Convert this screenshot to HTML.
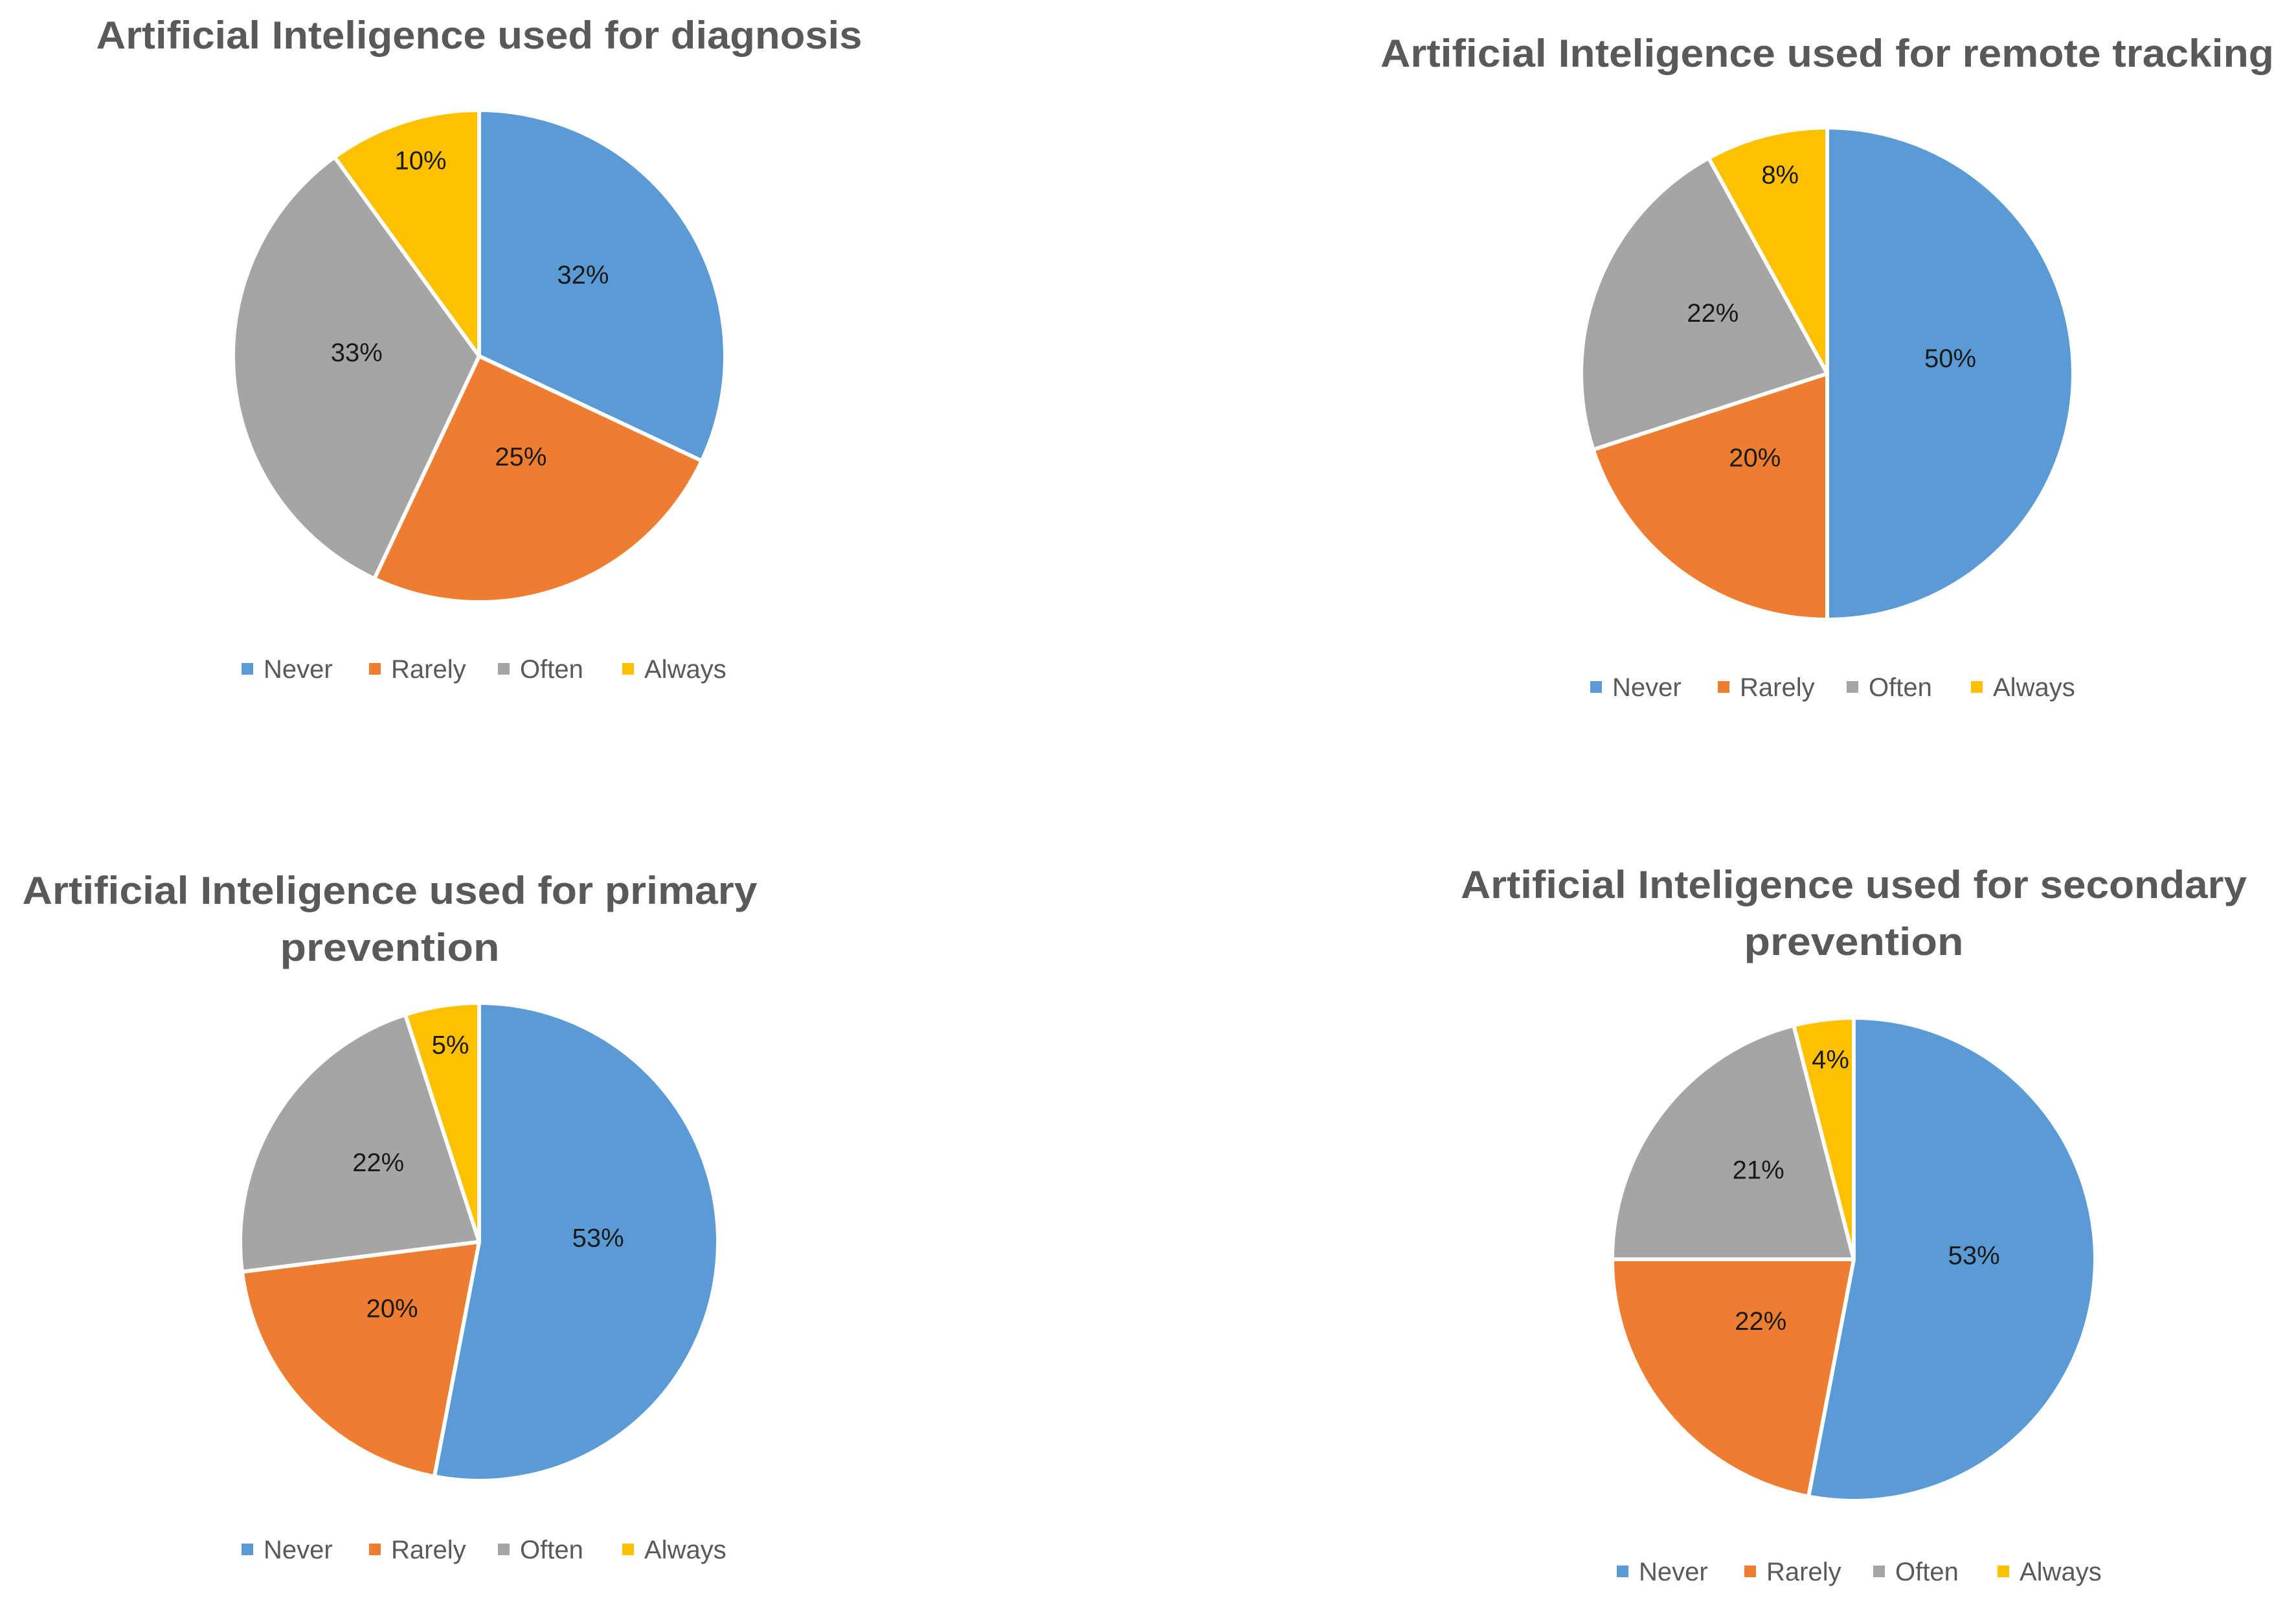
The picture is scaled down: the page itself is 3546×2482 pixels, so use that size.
<!DOCTYPE html>
<html><head><meta charset="utf-8"><style>
html,body{margin:0;padding:0;background:#fff;}
svg{display:block;}
text{font-family:"Liberation Sans",sans-serif;}
</style></head><body>
<svg id="chart" width="3546" height="2482" viewBox="0 0 3546 2482" xmlns="http://www.w3.org/2000/svg"></svg>
<script>
const categories = ["Never","Rarely","Often","Always"];
const colors = ["#5b9bd5","#ed7d31","#a5a5a5","#ffc000"];
const diagnosisValues = [32,25,33,10];
const remoteValues = [50,20,22,8];
const primaryValues = [53,20,22,5];
const secondaryValues = [53,22,21,4];
const diagnosisLabels = ["32%","25%","33%","10%"];
const remoteLabels = ["50%","20%","22%","8%"];
const primaryLabels = ["53%","20%","22%","5%"];
const secondaryLabels = ["53%","22%","21%","4%"];

const NS="http://www.w3.org/2000/svg";
const svg=document.getElementById('chart');
function mk(tag,attrs,parent){const e=document.createElementNS(NS,tag);for(const k in attrs)e.setAttribute(k,attrs[k]);(parent||svg).appendChild(e);return e;}

const layouts=[
 {key:'diagnosis',vals:diagnosisValues,labels:diagnosisLabels,cx:740,cy:550,r:380,
  title:[["Artificial Inteligence used for diagnosis",740,75,1183]],lx:373,ly:1033},
 {key:'remote-tracking',vals:remoteValues,labels:remoteLabels,cx:2822,cy:577,r:380,
  title:[["Artificial Inteligence used for remote tracking",2822,103,1380]],lx:2456,ly:1061},
 {key:'primary-prevention',vals:primaryValues,labels:primaryLabels,cx:740,cy:1918,r:369,
  title:[["Artificial Inteligence used for primary",602,1396,1135],["prevention",602,1484,339]],lx:373,ly:2393},
 {key:'secondary-prevention',vals:secondaryValues,labels:secondaryLabels,cx:2863,cy:1945,r:373,
  title:[["Artificial Inteligence used for secondary",2863,1387,1214],["prevention",2863,1475,339]],lx:2497,ly:2427}
];

layouts.forEach(L=>{
  const g=mk('g',{});
  
  
  L.title.forEach((t,i)=>{
    const tt=mk('text',{x:t[1],y:t[2],'text-anchor':'middle','font-size':60,'font-weight':'bold',fill:'#595959',textLength:t[3],lengthAdjust:'spacingAndGlyphs'},g);
    tt.textContent=t[0];
    
    
  });
  const total=L.vals.reduce((a,b)=>a+b,0);
  let acc=0;
  const pt=(a,rr)=>[L.cx+rr*Math.sin(a),L.cy-rr*Math.cos(a)];
  L.vals.forEach((v,i)=>{
    const a0=acc/total*2*Math.PI; acc+=v; const a1=acc/total*2*Math.PI;
    const p0=pt(a0,L.r),p1=pt(a1,L.r);
    const large=(a1-a0)>Math.PI?1:0;
    const p=mk('path',{d:`M${L.cx},${L.cy} L${p0[0]},${p0[1]} A${L.r},${L.r} 0 ${large} 1 ${p1[0]},${p1[1]} Z`,fill:colors[i],stroke:'#fff','stroke-width':6,'stroke-linejoin':'round'},g);
    
    
    const mid=(a0+a1)/2;
    const f=(v/total)<0.12?0.77:0.5;
    const lp=pt(mid,L.r*f);
    const t=mk('text',{x:lp[0],y:lp[1]-10,'text-anchor':'middle','font-size':40,fill:'#1a1a1a'},g);
    t.textContent=L.labels[i];
    
    
  });
  const offs=[0,197,396,588];
  categories.forEach((c,i)=>{
    const lg=mk('g',{},g);
    
    
    mk('rect',{x:L.lx+offs[i],y:L.ly-9,width:18,height:18,fill:colors[i]},lg);
    const t=mk('text',{x:L.lx+offs[i]+34,y:L.ly+14,'font-size':40,fill:'#595959'},lg);
    t.textContent=c;
  });
});
</script>
</body></html>
